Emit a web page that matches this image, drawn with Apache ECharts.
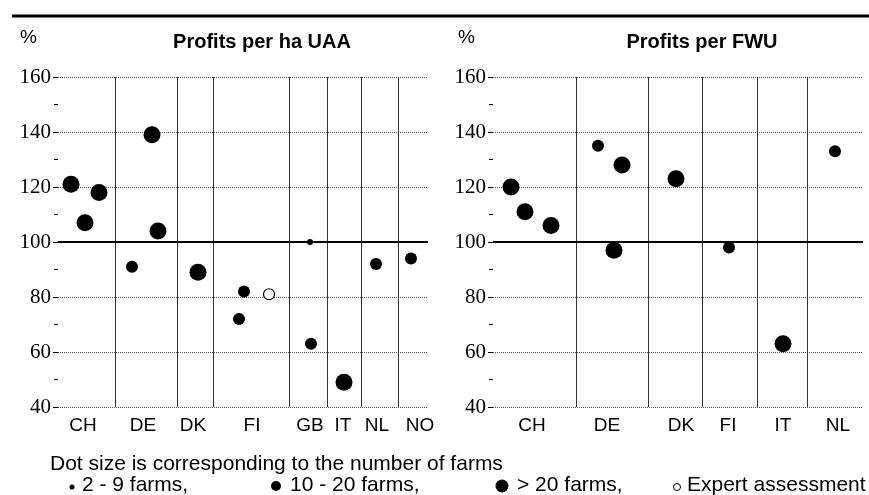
<!DOCTYPE html>
<html>
<head>
<meta charset="utf-8">
<script src="https://cdn.jsdelivr.net/npm/echarts@6/dist/echarts.min.js"></script>
<style>
  html, body { margin: 0; padding: 0; background: #fff; }
  #main { width: 869px; height: 495px; }
</style>
</head>
<body>
<div id="main"></div>
<script>
// y scale shared by both panels (index, %)
const yMin = 40
const yMax = 160
const yStep = 20

// left panel: profits per ha UAA  (x = position along the country strip)
const uaaCountries = ['CH', 'DE', 'DK', 'FI', 'GB', 'IT', 'NL', 'NO']
const uaaLabelPos = [25, 85, 135, 194, 252, 285, 319, 362]
const uaaBounds = [57, 119, 155, 231, 269, 303, 340]
const uaaSmall = [[252, 100]]
const uaaMedium = [[74, 91], [181, 72], [186, 82], [253, 63], [318, 92], [353, 94]]
const uaaLarge = [[13, 121], [27, 107], [41, 118], [94, 139], [100, 104], [140, 89], [286, 49]]
const uaaExpert = [[211, 81]]

// right panel: profits per FWU
const fwuCountries = ['CH', 'DE', 'DK', 'FI', 'IT', 'NL']
const fwuLabelPos = [39, 114, 188, 235, 290, 345]
const fwuBounds = [83, 155, 209, 264, 314]
const fwuMedium = [[105, 135], [236, 98], [342, 133]]
const fwuLarge = [[18, 120], [32, 111], [58, 106], [121, 97], [129, 128], [183, 123], [290, 63]]

const sans = 'Liberation Sans'
const serif = 'Liberation Serif'

function xAxisFor (idx, names, pos) {
  return {
    gridIndex: idx,
    type: 'value',
    min: 0,
    max: 370,
    axisLine: { show: false },
    axisTick: { show: false },
    splitLine: { show: false },
    axisLabel: {
      customValues: pos,
      formatter: (v) => {
        let i = pos.indexOf(v)
        return i >= 0 ? names[i] : ''
      },
      margin: 9,
      color: '#000',
      fontFamily: sans,
      fontSize: 19
    }
  }
}

function yAxisFor (idx) {
  return {
    gridIndex: idx,
    type: 'value',
    min: yMin,
    max: yMax,
    interval: yStep,
    axisLine: { show: false },
    axisTick: { show: true, length: 5, lineStyle: { color: '#000' } },
    minorTick: { show: true, splitNumber: 2, length: 4, lineStyle: { color: '#000' } },
    splitLine: { show: true, lineStyle: { color: '#555', type: 'dotted', width: 1 } },
    axisLabel: { color: '#000', fontFamily: serif, fontSize: 21, margin: 7 }
  }
}

function dividers (bounds) {
  let data = bounds.map((b) => ({ xAxis: b, lineStyle: { color: '#333', width: 1, type: 'solid' } }))
  data.push({ yAxis: 100, lineStyle: { color: '#000', width: 2, type: 'solid' } })
  return { symbol: 'none', silent: true, label: { show: false }, data: data }
}

function dots (idx, data, size, extra) {
  return Object.assign({
    type: 'scatter',
    xAxisIndex: idx,
    yAxisIndex: idx,
    data: data,
    symbol: 'circle',
    symbolSize: size,
    itemStyle: { color: '#000', opacity: 1 },
    z: 5
  }, extra || {})
}

let Chart = echarts.init(document.getElementById('main'))
Chart.setOption({
  animation: false,
  grid: [
    { left: 58, top: 77, width: 370, height: 330 },
    { left: 493, top: 77, width: 370, height: 330 }
  ],
  xAxis: [xAxisFor(0, uaaCountries, uaaLabelPos), xAxisFor(1, fwuCountries, fwuLabelPos)],
  yAxis: [yAxisFor(0), yAxisFor(1)],
  series: [
    dots(0, uaaLarge, 17, { markLine: dividers(uaaBounds) }),
    dots(0, uaaMedium, 12),
    dots(0, uaaSmall, 6),
    dots(0, uaaExpert, 11, { itemStyle: { color: '#fff', borderColor: '#000', borderWidth: 1.2, opacity: 1 } }),
    dots(1, fwuLarge, 17, { markLine: dividers(fwuBounds) }),
    dots(1, fwuMedium, 12)
  ],
  graphic: [
    { type: 'line', shape: { x1: 12, y1: 16, x2: 869, y2: 16 }, style: { stroke: '#000', lineWidth: 3 } },
    { type: 'text', x: 20, y: 38, style: { text: '%', fontSize: 19, fontFamily: sans, fill: '#000', verticalAlign: 'middle' } },
    { type: 'text', x: 458, y: 38, style: { text: '%', fontSize: 19, fontFamily: sans, fill: '#000', verticalAlign: 'middle' } },
    { type: 'text', x: 262, y: 42, style: { text: 'Profits per ha UAA', fontSize: 20, fontWeight: 'bold', fontFamily: sans, fill: '#000', align: 'center', verticalAlign: 'middle' } },
    { type: 'text', x: 702, y: 42, style: { text: 'Profits per FWU', fontSize: 20, fontWeight: 'bold', fontFamily: sans, fill: '#000', align: 'center', verticalAlign: 'middle' } },
    // legend
    { type: 'text', x: 50, y: 464, style: { text: 'Dot size is corresponding to the number of farms', fontSize: 21, fontFamily: sans, fill: '#000', verticalAlign: 'middle' } },
    { type: 'circle', shape: { cx: 72, cy: 487, r: 2.5 }, style: { fill: '#000' } },
    { type: 'text', x: 82, y: 485, style: { text: '2 - 9 farms,', fontSize: 21, fontFamily: sans, fill: '#000', verticalAlign: 'middle' } },
    { type: 'circle', shape: { cx: 276, cy: 486, r: 5 }, style: { fill: '#000' } },
    { type: 'text', x: 290, y: 485, style: { text: '10 - 20 farms,', fontSize: 21, fontFamily: sans, fill: '#000', verticalAlign: 'middle' } },
    { type: 'circle', shape: { cx: 502, cy: 486, r: 6.5 }, style: { fill: '#000' } },
    { type: 'text', x: 517, y: 485, style: { text: '> 20 farms,', fontSize: 21, fontFamily: sans, fill: '#000', verticalAlign: 'middle' } },
    { type: 'circle', shape: { cx: 677, cy: 487, r: 3.5 }, style: { fill: '#fff', stroke: '#000', lineWidth: 1 } },
    { type: 'text', x: 687, y: 485, style: { text: 'Expert assessment', fontSize: 21, fontFamily: sans, fill: '#000', verticalAlign: 'middle' } }
  ]
})
</script>
</body>
</html>
